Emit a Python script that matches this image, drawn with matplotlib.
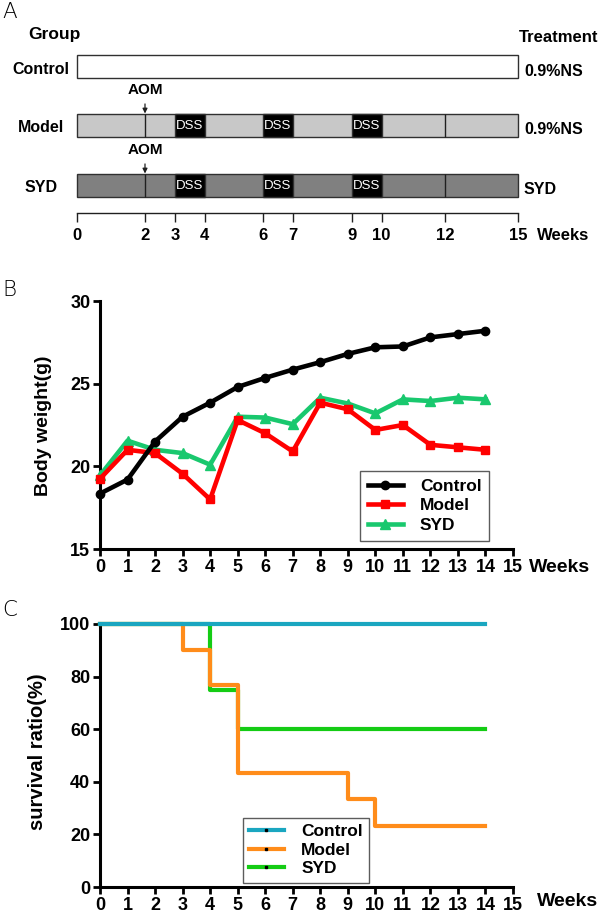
import numpy as np
import matplotlib
matplotlib.use('Agg')
import matplotlib.pyplot as plt
from matplotlib.lines import Line2D
from matplotlib import font_manager

plt.rcParams['font.family'] = ['Liberation Sans', 'DejaVu Sans']
_names = {f.name for f in font_manager.fontManager.ttflist}
NARROW = 'Liberation Sans Narrow' if 'Liberation Sans Narrow' in _names else 'Liberation Sans'
NSCALE = 1.18 if NARROW == 'Liberation Sans Narrow' else 1.0

# ---------------- data ----------------
# Panel A: study design
groups = ['Control', 'Model', 'SYD']
treatments = ['0.9%NS', '0.9%NS', 'SYD']
aom_week = 2
dss_start = [3, 6, 9]
dss_len = 1
divider_weeks = [2, 12]
timeline_ticks = [0, 2, 3, 4, 6, 7, 9, 10, 12, 15]
study_weeks = 15

# Panel B: body weight (g)
weeks = list(range(15))
bw_control = [18.35, 19.2, 21.5, 23.0, 23.85, 24.8, 25.35, 25.85, 26.3, 26.8, 27.2, 27.25, 27.8, 28.0, 28.2]
bw_model = [19.25, 21.0, 20.8, 19.55, 18.0, 22.8, 22.0, 20.9, 23.85, 23.45, 22.2, 22.5, 21.3, 21.15, 21.0]
bw_syd = [19.45, 21.55, 21.0, 20.8, 20.1, 23.0, 22.95, 22.55, 24.15, 23.8, 23.2, 24.05, 23.95, 24.15, 24.05]

# Panel C: survival ratio (%)
surv_control_t = [0, 14]
surv_control = [100, 100]
surv_model_t = [0, 3, 4, 5, 9, 10, 14]
surv_model = [100, 90, 76.7, 43.3, 33.3, 23.3, 23.3]
surv_syd_t = [0, 4, 5, 14]
surv_syd = [100, 75, 60, 60]

# ---------------- layout ----------------
W, H = 600, 918
fig = plt.figure(figsize=(W / 100, H / 100), dpi=100)


def ftext(x, y, s, **kw):
    return fig.text(x / W, 1 - y / H, s, **kw)


# schematic (non-uniform) week scale of panel A
anchor_w = [0, 2, 3, 4, 6, 7, 9, 10, 12, 15]
anchor_p = [0, 68, 98, 127.6, 185.7, 216, 275, 304.5, 368, 441]


def fwd(x):
    return np.interp(x, anchor_w, anchor_p)


def inv(p):
    return np.interp(p, anchor_p, anchor_w)


# ----- Panel A -----
axA = fig.add_axes([77 / W, 1 - 260 / H, 441 / W, 260 / H])
axA.set_xscale('function', functions=(fwd, inv))
axA.set_xlim(0, study_weeks)
axA.set_ylim(260, 0)
axA.axis('off')

row_y = [66.5, 125, 185]
bar_h = 23
bar_colors = ['white', '#c8c8c8', '#808080']
label_y = [69, 128, 188]
fsA = 11.5 * NSCALE
for i, g in enumerate(groups):
    axA.barh(row_y[i], study_weeks, left=0, height=bar_h, color=bar_colors[i],
             edgecolor='#303030', linewidth=1.0, clip_on=False)
    ftext(41, label_y[i], g, ha='center', va='center', fontsize=fsA, fontweight='bold', family=NARROW)
    ftext(524, label_y[i] + 2, treatments[i], ha='left', va='center', fontsize=fsA,
          fontweight='bold', family=NARROW)
    if i > 0:
        axA.barh([row_y[i]] * len(dss_start), [dss_len] * len(dss_start), left=dss_start,
                 height=bar_h, color='black', edgecolor='#303030', linewidth=1.0)
        for s in dss_start:
            axA.text(s + dss_len / 2, row_y[i] + 1, 'DSS', color='white', ha='center',
                     va='center', fontsize=9.5 * NSCALE, family=NARROW)
        axA.vlines(divider_weeks, row_y[i] - bar_h / 2, row_y[i] + bar_h / 2,
                   color='#202020', linewidth=1.0)
        axA.annotate('AOM', xy=(aom_week, row_y[i] - bar_h / 2), xytext=(aom_week, row_y[i] - 35),
                     ha='center', va='center', fontsize=11 * NSCALE, fontweight='bold', family=NARROW,
                     arrowprops=dict(arrowstyle='-|>', color='#202020', lw=0.9,
                                     mutation_scale=7, shrinkA=3, shrinkB=0))

axA.plot([0, study_weeks], [213, 213], color='#202020', lw=1.0, clip_on=False)
axA.vlines(timeline_ticks, 213, 222, color='#202020', lw=1.0, clip_on=False)
for t in timeline_ticks:
    axA.text(t, 236, str(t), ha='center', va='center', fontsize=12 * NSCALE, fontweight='bold',
             family=NARROW, clip_on=False)
ftext(537, 236, 'Weeks', ha='left', va='center', fontsize=12 * NSCALE, fontweight='bold', family=NARROW)
ftext(28, 35, 'Group', ha='left', va='center', fontsize=12.5 * NSCALE, fontweight='bold', family=NARROW)
ftext(598, 37, 'Treatment', ha='right', va='center', fontsize=12 * NSCALE, fontweight='bold', family=NARROW)
ftext(2, 18, 'A', ha='left', va='baseline', fontsize=15.5, family='DejaVu Sans', fontweight='light')


def style_axis(ax):
    for side in ['top', 'right']:
        ax.spines[side].set_visible(False)
    for side in ['left', 'bottom']:
        ax.spines[side].set_linewidth(2.2)
    ax.tick_params(direction='out', length=5, width=2, labelsize=13, pad=2)
    for lbl in ax.get_xticklabels() + ax.get_yticklabels():
        lbl.set_fontweight('bold')


# ----- Panel B -----
axB = fig.add_axes([100 / W, 1 - 549 / H, 413 / W, 248 / H])
axB.set_xlim(0, 15)
axB.set_ylim(15, 30)
axB.set_xticks(range(16))
axB.set_yticks([15, 20, 25, 30])
lw_b = 3.3
axB.plot(weeks, bw_syd, color='#19c86e', lw=lw_b, marker='^', ms=6.5, clip_on=False, zorder=3, label='SYD')
axB.plot(weeks, bw_model, color='#ff0000', lw=lw_b, marker='s', ms=6, clip_on=False, zorder=4, label='Model')
axB.plot(weeks, bw_control, color='black', lw=lw_b, marker='o', ms=6, clip_on=False, zorder=5, label='Control')
style_axis(axB)
hb, lb = axB.get_legend_handles_labels()
order = [2, 1, 0]
legB = axB.legend([hb[i] for i in order], [lb[i] for i in order], loc='upper left',
                  bbox_to_anchor=(360 / W, 1 - 471 / H), bbox_transform=fig.transFigure,
                  borderaxespad=0, frameon=True, fancybox=False, edgecolor='#333333',
                  prop=dict(weight='bold', size=12.5), handlelength=2.0, handletextpad=1.0,
                  labelspacing=0.25, borderpad=0.45, markerscale=1.0)
legB.get_frame().set_linewidth(1.0)
ftext(529, 568, 'Weeks', ha='left', va='center', fontsize=14, fontweight='bold')
ftext(44, 426, 'Body weight(g)', ha='center', va='center', rotation=90, fontsize=14, fontweight='bold')
ftext(2, 296, 'B', ha='left', va='baseline', fontsize=15.5, family='DejaVu Sans', fontweight='light')

# ----- Panel C -----
axC = fig.add_axes([100 / W, 1 - 887 / H, 413 / W, 263 / H])
axC.set_xlim(0, 15)
axC.set_ylim(0, 100)
axC.set_xticks(range(16))
axC.set_yticks(range(0, 101, 20))
c_ctrl, c_model, c_syd = '#1aa6c0', '#ff8c1a', '#14cc14'
lw_c = 3.0
axC.step(surv_syd_t, surv_syd, where='post', color=c_syd, lw=lw_c, clip_on=False, zorder=3)
axC.step(surv_model_t, surv_model, where='post', color=c_model, lw=lw_c, clip_on=False, zorder=4)
axC.step(surv_control_t, surv_control, where='post', color=c_ctrl, lw=lw_c, clip_on=False, zorder=5)
style_axis(axC)
handlesC = [Line2D([], [], color=c, lw=lw_c, marker='s', ms=1.5, mfc='black', mec='black')
            for c in (c_ctrl, c_model, c_syd)]
legC = axC.legend(handlesC, groups, loc='upper left',
                  bbox_to_anchor=(243 / W, 1 - 818 / H), bbox_transform=fig.transFigure,
                  borderaxespad=0, frameon=True, fancybox=False, edgecolor='#333333',
                  prop=dict(weight='bold', size=12.5), handlelength=2.0, handletextpad=1.0,
                  labelspacing=0.2, borderpad=0.35)
legC.get_frame().set_linewidth(1.0)
ftext(537, 901, 'Weeks', ha='left', va='center', fontsize=14, fontweight='bold')
ftext(38, 752, 'survival ratio(%)', ha='center', va='center', rotation=90, fontsize=14.5, fontweight='bold')
ftext(2, 616, 'C', ha='left', va='baseline', fontsize=15.5, family='DejaVu Sans', fontweight='light')

fig.savefig('out.png', dpi=100)
